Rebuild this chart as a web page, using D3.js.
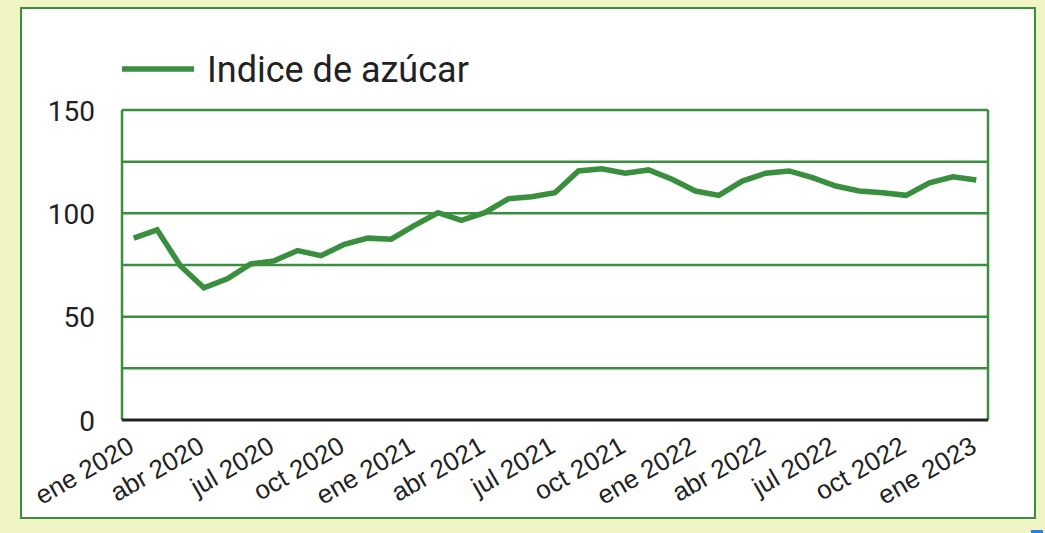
<!DOCTYPE html>
<html>
<head>
<meta charset="utf-8">
<script src="https://cdn.jsdelivr.net/npm/d3@7"></script>
<style>
  html, body { margin: 0; padding: 0; background: #f1f4c5; }
  svg { display: block; }
</style>
</head>
<body>
<svg id="chart" width="1045" height="533"></svg>
<script>
// Monthly sugar price index, Jan 2020 – Jan 2023
const months = [
  "ene 2020", "feb 2020", "mar 2020", "abr 2020", "may 2020", "jun 2020",
  "jul 2020", "ago 2020", "sep 2020", "oct 2020", "nov 2020", "dic 2020",
  "ene 2021", "feb 2021", "mar 2021", "abr 2021", "may 2021", "jun 2021",
  "jul 2021", "ago 2021", "sep 2021", "oct 2021", "nov 2021", "dic 2021",
  "ene 2022", "feb 2022", "mar 2022", "abr 2022", "may 2022", "jun 2022",
  "jul 2022", "ago 2022", "sep 2022", "oct 2022", "nov 2022", "dic 2022",
  "ene 2023"
];
const sugarIndex = [
  88, 92, 74.5, 64, 68.3, 75.5,
  77, 82, 79.5, 85, 88, 87.5,
  94.2, 100.3, 96.6, 100.3, 107, 108,
  110, 120.5, 121.6, 119.4, 121, 116.5,
  110.8, 108.7, 115.6, 119.4, 120.5, 117.3,
  113.2, 110.8, 110, 108.7, 114.8, 117.7,
  116.1
];
const xTickLabels = [
  "ene 2020", "abr 2020", "jul 2020", "oct 2020",
  "ene 2021", "abr 2021", "jul 2021", "oct 2021",
  "ene 2022", "abr 2022", "jul 2022", "oct 2022",
  "ene 2023"
];
const yTickLabels = [0, 50, 100, 150];
const gridValues = [25, 50, 75, 100, 125, 150];
const seriesName = "Indice de azúcar";

const green = "#3a8f3e";
const svg = d3.select("#chart");

// White card with green frame
svg.append("rect")
  .attr("x", 21).attr("y", 8)
  .attr("width", 1014).attr("height", 510)
  .attr("fill", "#ffffff")
  .attr("stroke", green).attr("stroke-width", 2);

// Small blue marker in the bottom-right corner of the page
svg.append("rect")
  .attr("x", 1031).attr("y", 530)
  .attr("width", 12).attr("height", 3)
  .attr("fill", "#2b7de9");

const plot = { left: 122, right: 988, top: 110, bottom: 420 };

const x = d3.scaleBand()
  .domain(months)
  .range([plot.left, plot.right])
  .padding(0);

const y = d3.scaleLinear()
  .domain([0, 150])
  .range([plot.bottom, plot.top]);

const cx = d => x(d) + x.bandwidth() / 2;

// Horizontal gridlines
svg.append("g")
  .selectAll("line")
  .data(gridValues)
  .join("line")
  .attr("x1", plot.left).attr("x2", plot.right)
  .attr("y1", d => y(d)).attr("y2", d => y(d))
  .attr("stroke", green).attr("stroke-width", 2.5);

// Left and right plot edges
svg.append("g")
  .selectAll("line")
  .data([plot.left, plot.right])
  .join("line")
  .attr("x1", d => d).attr("x2", d => d)
  .attr("y1", y(150)).attr("y2", y(0))
  .attr("stroke", green).attr("stroke-width", 2.5);

// Baseline
svg.append("line")
  .attr("x1", plot.left).attr("x2", plot.right)
  .attr("y1", y(0)).attr("y2", y(0))
  .attr("stroke", "#222222").attr("stroke-width", 3);

// Y axis labels
const yAxis = svg.append("g")
  .attr("transform", `translate(${plot.left - 27},0)`)
  .call(d3.axisLeft(y).tickValues(yTickLabels).tickSize(0).tickPadding(0));
yAxis.select(".domain").remove();
yAxis.selectAll("text")
  .attr("font-family", "Roboto, 'Noto Sans', sans-serif")
  .attr("font-size", 28)
  .attr("fill", "#222222")
  .attr("dy", "0.36em");

// X axis labels, rotated
const xAxis = svg.append("g")
  .attr("transform", `translate(0,${plot.bottom})`)
  .call(d3.axisBottom(x).tickValues(xTickLabels).tickSize(0));
xAxis.select(".domain").remove();
xAxis.selectAll(".tick text")
  .attr("font-family", "Arial, 'Liberation Sans', sans-serif")
  .attr("font-size", 26)
  .attr("fill", "#222222")
  .attr("text-anchor", "end")
  .attr("x", 0)
  .attr("y", 0)
  .attr("dy", 0)
  .attr("transform", "translate(2,31) rotate(-30)");

// Series line
const line = d3.line()
  .x((d, i) => cx(months[i]))
  .y(d => y(d));

svg.append("path")
  .datum(sugarIndex)
  .attr("d", line)
  .attr("fill", "none")
  .attr("stroke", green)
  .attr("stroke-width", 5.5)
  .attr("stroke-linejoin", "miter");

// Legend
svg.append("line")
  .attr("x1", 122).attr("x2", 194)
  .attr("y1", 69).attr("y2", 69)
  .attr("stroke", green).attr("stroke-width", 5.5);
svg.append("text")
  .attr("x", 207).attr("y", 82)
  .attr("font-family", "Roboto, 'Noto Sans', sans-serif")
  .attr("font-size", 36)
  .attr("fill", "#222222")
  .text(seriesName);
</script>
</body>
</html>
